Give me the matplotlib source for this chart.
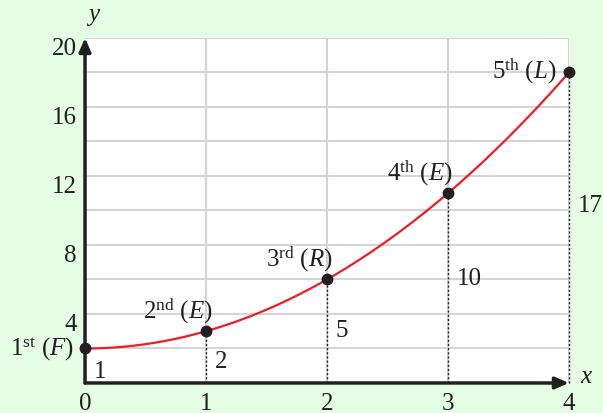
import numpy as np
import matplotlib
matplotlib.use("Agg")
import matplotlib.pyplot as plt

plt.rcParams["font.family"] = ["Liberation Serif", "DejaVu Serif"]
plt.rcParams["mathtext.fontset"] = "custom"
plt.rcParams["mathtext.rm"] = "Liberation Serif"
plt.rcParams["mathtext.it"] = "Liberation Serif:italic"

# Terms of the sequence
x_vals = [0, 1, 2, 3, 4]
y_vals = [1, 2, 5, 10, 17]
ordinals = ["st", "nd", "rd", "th", "th"]
letters = ["F", "E", "R", "E", "L"]
x_ticks = [0, 1, 2, 3, 4]
y_tick_labels = [4, 8, 12, 16, 20]

BG = "#e4fde4"
INK = "#231f20"
RED = "#ee1c25"
GRID = "#d4d4d4"

fig = plt.figure(figsize=(6.03, 4.14), dpi=100, facecolor=BG)
ax = fig.add_axes([0.141, 0.0725, 0.8025, 0.8333])
ax.set_facecolor("white")
ax.set_xlim(0, 4)
ax.set_ylim(-1, 19)
for s in ax.spines.values():
    s.set_visible(False)
ax.set_xticks([])
ax.set_yticks([])

# grid
for gx in [1, 2, 3, 4]:
    ax.plot([gx, gx], [-1, 19], color=GRID, lw=1.5, zorder=1)
for gy in range(1, 20, 2):
    ax.plot([0, 4], [gy, gy], color=GRID, lw=1.5, zorder=1)

# smooth curve through the terms
coef = np.polyfit(x_vals, y_vals, 2)
xs = np.linspace(0, 4, 300)
ax.plot(xs, np.polyval(coef, xs), color=RED, lw=1.6, zorder=3)

# drop lines and points
for xv, yv in zip(x_vals, y_vals):
    ax.plot([xv, xv], [-1, yv], color=INK, lw=1.0, ls=(0, (1.5, 1.5)),
            zorder=2, clip_on=False)
ax.plot(x_vals, y_vals, "o", color=INK, ms=7.5, zorder=4, clip_on=False)

# values beside the drop lines
for xv, yv in zip(x_vals, y_vals):
    ax.text(xv + 0.07, 0.6 * yv - 0.9, str(yv), fontsize=18, color=INK,
            ha="left", va="center", zorder=5, clip_on=False)

# term labels
fs = 18
for i, (xv, yv, o, L) in enumerate(zip(x_vals, y_vals, ordinals, letters)):
    lab = r"$\mathrm{%d}^{\mathrm{%s}}\ (%s)$" % (i + 1, o, L)
    if i == 0:
        ax.text(xv - 0.09, yv, lab, fontsize=fs, ha="right", va="center", color=INK, clip_on=False)
    elif i == 4:
        ax.text(xv - 0.1, yv + 0.1, lab, fontsize=fs, ha="right", va="center", color=INK)
    else:
        ax.text(xv - 0.23, yv + 1.2, lab, fontsize=fs, ha="center", va="center", color=INK)

# axes with arrows
ax.annotate("", xy=(4.0, -1), xytext=(0, -1),
            arrowprops=dict(arrowstyle="-|>,head_length=0.8,head_width=0.35",
                            color=INK, lw=2.5, shrinkA=0, shrinkB=0), annotation_clip=False)
ax.annotate("", xy=(0, 19.0), xytext=(0, -1),
            arrowprops=dict(arrowstyle="-|>,head_length=0.8,head_width=0.35",
                            color=INK, lw=2.5, shrinkA=0, shrinkB=0), annotation_clip=False)

# tick labels
for t in x_ticks:
    ax.text(t, -2.15, str(t), fontsize=18, ha="center", va="center", color=INK, clip_on=False)
for t in y_tick_labels:
    ax.text(-0.07, t - 1.6, str(t), fontsize=18, ha="right", va="center", color=INK, clip_on=False)

ax.text(4.15, -0.6, "$x$", fontsize=18, ha="center", va="center", color=INK, clip_on=False)
ax.text(0.07, 20.3, "$y$", fontsize=18, ha="center", va="center", color=INK, clip_on=False)

fig.savefig("out.png", dpi=100, facecolor=BG)
